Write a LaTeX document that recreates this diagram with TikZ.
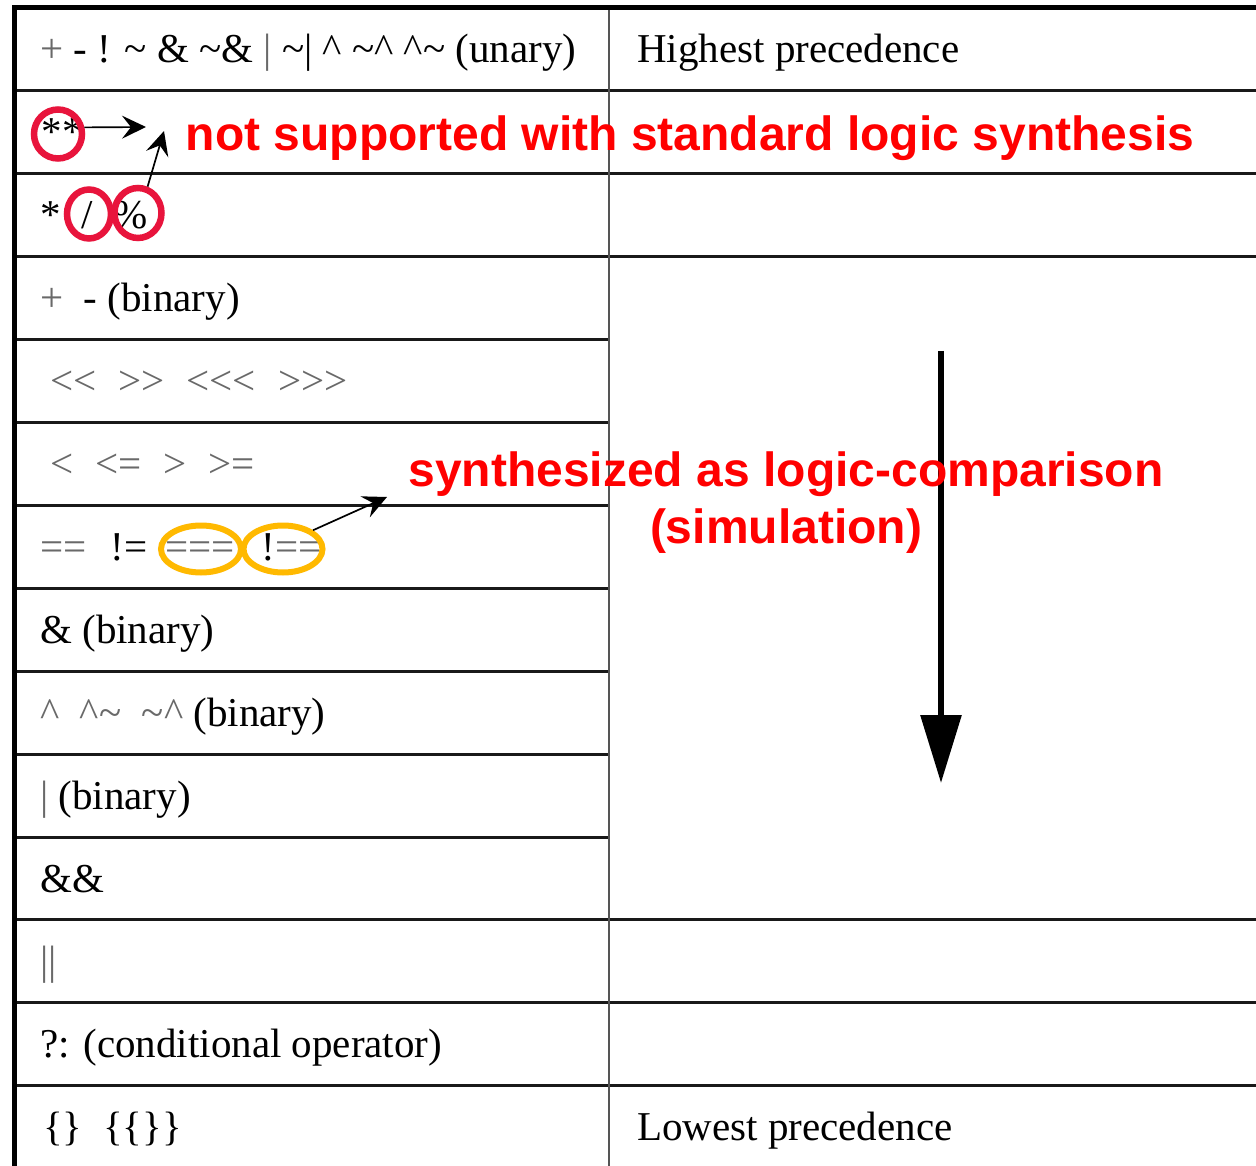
\documentclass[tikz,border=0pt]{standalone}
\usepackage{fontspec}
\setmainfont{Liberation Serif}[Ligatures=TeXOff]
\newfontfamily\notefont{Liberation Sans}
\usetikzlibrary{arrows.meta,shapes.geometric}

\definecolor{notered}{RGB}{255,0,0}
\definecolor{ringred}{RGB}{232,20,60}
\definecolor{ringamber}{RGB}{255,185,0}
\definecolor{rulecol}{RGB}{25,25,25}
\definecolor{dividercol}{RGB}{85,85,85}
\definecolor{thinglyph}{RGB}{105,105,105}

% operator glyphs with thin strokes, printed lighter
\newcommand{\faint}[1]{\textcolor{thinglyph}{#1}}
\newcommand{\tld}{\textasciitilde}
\newcommand{\crt}{\textasciicircum}
\newcommand{\gap}{\hspace{22pt}}

\begin{document}
\begin{tikzpicture}[x=1pt,y=-1pt,
  cell/.style={anchor=base west, inner sep=0pt, font=\fontsize{41}{45}\selectfont},
  note/.style={anchor=base, inner sep=0pt, text=notered,
               font=\notefont\bfseries\fontsize{48}{52}\selectfont},
  ring/.style={draw=ringred, line width=6.5pt, ellipse, inner sep=0pt},
  amberring/.style={draw=ringamber, line width=6pt, ellipse, inner sep=0pt},
  pointer/.style={-{Stealth[length=24pt,width=23pt,inset=9pt]}, line width=1.7pt},
  rowrule/.style={draw=rulecol, line width=3pt},
]
\useasboundingbox (0,0) rectangle (1256,1166);
\fill[white] (0,0) rectangle (1256,1166);

% ---- table grid ----
% full-width rules
\foreach \k in {1,2,3,11,12,13}
  \draw[rowrule] (14,{8+82.9*\k}) -- (1256,{8+82.9*\k});
% rules of the operator column only
\foreach \k in {4,...,10}
  \draw[rowrule] (14,{8+82.9*\k}) -- (609,{8+82.9*\k});
% column divider
\draw[dividercol, line width=1.6pt] (609,8) -- (609,1166);
% heavy outer frame (top and left)
\draw[black, line width=5pt] (14,1166) -- (14,7.5) -- (1256,7.5);

% ---- operator column ----
\node[cell] (r0) at (40,63) {\faint{+} - ! \tld{} \& \tld\& \faint{|} \tld| \crt{} \tld\crt{} \crt\tld{} (unary)};
\node[cell] (r1) at (41,{63+82.9*1}) {*\hspace{1pt}*};
\node[cell] (r2) at (40,{63+82.9*2}) {*\ \ /\ \ \%};
\node[cell] (r3) at (40,{63+82.9*3}) {\faint{+}\ \ - (binary)};
\node[cell] (r4) at (50,{63+82.9*4}) {\faint{<<\gap>>\gap<<<\gap>>>}};
\node[cell] (r5) at (50,{63+82.9*5}) {\faint{<\gap<=\gap>\gap>=}};
\node[cell] (r6) at (40,{63+82.9*6}) {\faint{==}\hspace{24pt}!=\hspace{18pt}\faint{===}\hspace{27pt}!\faint{==}};
\node[cell] (r7) at (40,{63+82.9*7}) {\& (binary)};
\node[cell] (r8) at (40,{63+82.9*8}) {\faint{\crt{}\ \ \crt\tld{}\ \ \tld\crt{}} (binary)};
\node[cell] (r9) at (40,{63+82.9*9}) {\faint{|} (binary)};
\node[cell] (r10) at (40,{63+82.9*10}) {\&\&};
\node[cell] (r11) at (40,{63+82.9*11}) {\faint{||}};
\node[cell] (r12) at (40,{63+82.9*12}) {?: (conditional operator)};
\node[cell] (r13) at (43,{63+82.9*13}) {\{\}\ \ \{\{\}\}};

% ---- precedence column ----
\node[cell] (hi) at (637,63) {Highest precedence};
\node[cell] (lo) at (637,{63+82.9*13}) {Lowest precedence};

% precedence direction
\coordinate (dirtop) at (941,351);
\coordinate (dirtip) at (941,783);
\draw[line width=6pt, -{Triangle[length=68pt,width=40pt]}] (dirtop) -- (dirtip);

% ---- annotations: not synthesizable ----
\node[ring, minimum width=48pt, minimum height=49pt] (c1) at (58,134) {};
\node[ring, minimum width=44pt, minimum height=49pt] (c2) at (89,214) {};
\node[ring, minimum width=47pt, minimum height=50pt] (c3) at (138,213) {};
\coordinate (a1) at (146,127);
\coordinate (a2) at (164,131);
\draw[pointer] (c1.14) -- (a1);
\draw[pointer] (c3.70) -- (a2);
\node[note] (n1) at (690,151) {not supported with standard logic synthesis};

% ---- annotations: case equality ----
\node[amberring, minimum width=80pt, minimum height=47pt] (o1) at (201,549) {};
\node[amberring, minimum width=79pt, minimum height=47pt] (o2) at (283,549) {};
\coordinate (a3) at (387,497);
\draw[pointer] (o2.32) -- (a3);
\node[note] (n2) at (786,486) {synthesized as logic-comparison};
\node[note] (n3) at (786,543) {(simulation)};
\end{tikzpicture}
\end{document}
